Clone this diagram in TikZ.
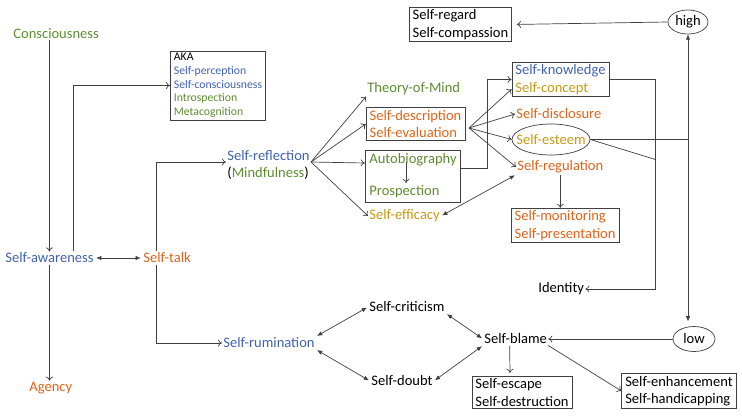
\documentclass[tikz,border=0pt]{standalone}
\usepackage{fontspec}
\setmainfont{Carlito}
\usepackage{xcolor}
\usepackage{tikz}
\usetikzlibrary{calc,shapes.geometric,fit,arrows.meta}
\definecolor{cblue}{HTML}{4162A8}
\definecolor{cgreen}{HTML}{5E8C31}
\definecolor{corange}{HTML}{D8661C}
\definecolor{cgold}{HTML}{C59B12}
\definecolor{linegray}{HTML}{404040}
\tikzset{
  lbl/.style={inner sep=1pt, font=\fontsize{12.4}{15}\selectfont},
  box/.style={draw=linegray, line width=0.6pt, align=left, inner xsep=3pt, inner ysep=2pt, font=\fontsize{12.4}{15}\selectfont},
  oval/.style={ellipse, draw=linegray, line width=0.6pt, inner sep=0},
  link/.style={draw=linegray, line width=0.6pt},
  arr/.style={link, -{To[length=3.5pt,width=6pt]}},
  tip/.style={link, -{Latex[length=4.5pt,width=3.8pt]}},
  both/.style={link, {Latex[length=4.5pt,width=3.8pt]}-{Latex[length=4.5pt,width=3.8pt]}, shorten <=1pt, shorten >=1pt}
}

\begin{document}
\begin{tikzpicture}[x=0.03cm,y=-0.03cm]
\useasboundingbox (0,0) rectangle (742,417);

\node[lbl, text=cgreen, anchor=west] (consc) at (12,34) {Consciousness};
\node[lbl, text=cblue, anchor=west] (aware) at (4,258) {Self-awareness};
\node[lbl, text=corange, anchor=west] (talk) at (142,258) {Self-talk};
\node[lbl, text=corange, anchor=west] (agency) at (28,388) {Agency};
\node[box, font=\fontsize{10}{11.7}\selectfont] (aka) at (218,85.5) {AKA\\\textcolor{cblue}{Self-perception}\\\textcolor{cblue}{Self-consciousness}\\\textcolor{cgreen}{Introspection}\\\textcolor{cgreen}{Metacognition}};

\node[lbl, anchor=west, align=left] (refl) at (226,165) {\textcolor{cblue}{Self-reflection}\\(\textcolor{cgreen}{Mindfulness})};
\node[lbl, text=cgreen, anchor=west] (tom) at (366,89) {Theory-of-Mind};
\node[box, text=corange] (desc) at (415.5,124) {Self-description\\Self-evaluation};
\node[lbl, text=cgreen, anchor=west] (autobio) at (368,160) {Autobiography};
\node[lbl, text=cgreen, anchor=west] (prosp) at (368,192) {Prospection};
\node[box, fit=(autobio)(prosp), inner xsep=2.4pt, inner ysep=2pt] (abox) {};
\node[lbl, text=cgold, anchor=west] (effic) at (368,216) {Self-efficacy};

\node[box] (know) at (560.5,79.5) {\textcolor{cblue}{Self-knowledge}\\\textcolor{cgold}{Self-concept}};
\node[lbl, text=corange, anchor=west] (discl) at (515,114) {Self-disclosure};
\node[oval, minimum width=2.34cm, minimum height=0.93cm, label={[lbl, text=cgold]center:Self-esteem}] (esteem) at (551,139.5) {};
\node[lbl, text=corange, anchor=west] (reg) at (516,167) {Self-regulation};
\node[box, text=corange] (monit) at (565,225.5) {Self-monitoring\\Self-presentation};
\node[lbl, anchor=west] (identity) at (537,289) {Identity};

\node[oval, minimum width=1.2cm, minimum height=0.72cm, label={[lbl]center:high}] (high) at (688,22) {};
\node[box] (regard) at (460.5,24.5) {Self-regard\\Self-compassion};
\node[oval, minimum width=1.26cm, minimum height=0.75cm, label={[lbl]center:low}] (low) at (694,339) {};

\node[lbl, text=cblue, anchor=west] (rumin) at (222,343) {Self-rumination};
\node[lbl, anchor=west] (crit) at (368,307) {Self-criticism};
\node[lbl, anchor=west] (doubt) at (370,381) {Self-doubt};
\node[lbl, anchor=west] (blame) at (483,339) {Self-blame};
\node[box] (escape) at (522,392.5) {Self-escape\\Self-destruction};
\node[box] (enhance) at (679,391) {Self-enhancement\\Self-handicapping};

\coordinate (reflout) at (311,162);
\coordinate (descout) at (469,128);
\coordinate (hub) at (esteem.east -| high.south);

\draw[arr] (consc.south -| aware.north) -- (aware.north);
\draw[arr] (aware.south) -- (aware.south |- agency.north);
\draw[arr] ($(aware.north)+(24,0)$) |- (aka.west);
\draw[both] (aware.east) -- (talk.west);
\draw[arr] ($(talk.north west)+(14,0)$) |- ($(refl.west)+(0,-3)$);
\draw[arr] ($(talk.south west)+(14,0)$) |- (rumin.west);

\foreach \t in {tom.south west, desc.west, effic.west}
  \draw[arr] (reflout) -- (\t);
\draw[arr] (reflout) -- ($(abox.west |- autobio)+(0,3)$);
\draw[arr] ($(autobio.center)+(-7,2)$) -- ++(0,21);
\draw[arr] ($(abox.east)+(0,-8)$) -| ($(know.west)+(-24,0)$) -- (know.west);

\draw[arr] (descout) -- ($(know.south west)+(0,-8)$);
\foreach \t in {discl.west, esteem.west, reg.west}
  \draw[arr] (descout) -- (\t);
\draw[both] (effic.east) -- (reg.south west);
\draw[arr] (reg.south) -- (reg.south |- monit.north);
\draw[arr] (know.east) -- ++(46,0) |- (identity.east);

\draw[link] (esteem.east) -- (hub);
\draw[link] (esteem.east) -- ($(esteem.east)+(65,20)$);
\draw[tip] (hub) -- (high.south);
\draw[tip, shorten >=4pt] (hub) -- (hub |- low.north);
\draw[arr, shorten >=4pt] (high.west) -- (regard.east);
\draw[arr] (low.west) -- (blame.east);

\draw[both] (rumin.north east) -- (crit.west);
\draw[both] (rumin.south east) -- (doubt.west);
\draw[both] (crit.south east) -- (blame.west);
\draw[both] (doubt.east) -- (blame.south west);
\draw[arr] ($(blame.south)+(-6,0)$) -- ($(escape.north)+(-12,-3)$);
\draw[arr] (blame.south east) -- (enhance.west);
\end{tikzpicture}
\end{document}
